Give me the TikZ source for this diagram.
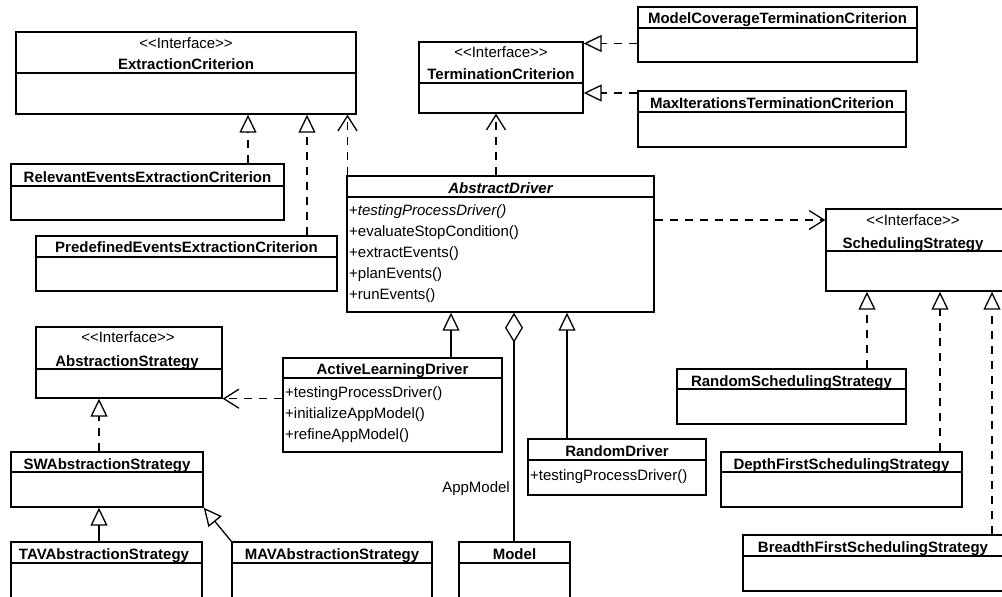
\documentclass[tikz,border=0pt]{standalone}
\usepackage{fontspec}
\setmainfont{Liberation Sans}
\usetikzlibrary{arrows.meta,fit}

\tikzset{
  classbox/.style={draw=black, line width=1.4pt, inner sep=0pt},
  divider/.style={draw=black, line width=1.4pt},
  cname/.style={font=\fontsize{15}{18}\selectfont\bfseries, anchor=base, inner sep=0pt},
  aname/.style={font=\fontsize{15}{18}\selectfont\bfseries\itshape, anchor=base, inner sep=0pt},
  stereo/.style={font=\fontsize{15}{18}\selectfont, anchor=base, inner sep=0pt},
  member/.style={font=\fontsize{15}{18}\selectfont, anchor=base west, inner sep=0pt},
  lbl/.style={font=\fontsize{15}{18}\selectfont, anchor=base east, inner sep=0pt},
  conn/.style={draw=black, line width=1.3pt},
  dashline/.style={conn, dash pattern=on 8pt off 7pt},
  realizes/.style={dashline, -{Triangle[open, length=18pt, width=17pt, line width=1.3pt]}},
  inherits/.style={conn, -{Triangle[open, length=18pt, width=17pt, line width=1.3pt]}},
  depends/.style={dashline, -{Straight Barb[length=15pt, width=19pt, line width=1.3pt]}},
  aggregates/.style={conn, {Diamond[open, length=30pt, width=18pt, line width=1.3pt]}-},
}

\begin{document}
\begin{tikzpicture}[x=1pt, y=-1pt]
\useasboundingbox (0,0) rectangle (1002,597);
\clip (0,0) rectangle (1002,597);

% ---------------- class boxes ----------------
\node[classbox, fit={(16,32) (356,114)}] (ec) {};
\draw[divider] (ec.west |- 0,73) -- (ec.east |- 0,73);
\node[stereo] (ec-s) at (186,48.5) {{<}{<}Interface{>}{>}};
\node[cname] (ec-n) at (186,69) {ExtractionCriterion};

\node[classbox, fit={(419,42) (583,113)}] (tc) {};
\draw[divider] (tc.west |- 0,83) -- (tc.east |- 0,83);
\node[stereo] (tc-s) at (501,57.5) {{<}{<}Interface{>}{>}};
\node[cname] (tc-n) at (501,79) {TerminationCriterion};

\node[classbox, fit={(638,7) (917,62)}] (mc) {};
\draw[divider] (mc.west |- 0,28) -- (mc.east |- 0,28);
\node[cname] (mc-n) at (777.5,23.5) {ModelCoverageTerminationCriterion};

\node[classbox, fit={(638,91) (906,147)}] (mi) {};
\draw[divider] (mi.west |- 0,112) -- (mi.east |- 0,112);
\node[cname] (mi-n) at (772,108) {MaxIterationsTerminationCriterion};

\node[classbox, fit={(11,164) (284,220)}] (rel) {};
\draw[divider] (rel.west |- 0,186) -- (rel.east |- 0,186);
\node[cname] (rel-n) at (147.5,182) {RelevantEventsExtractionCriterion};

\node[classbox, fit={(36,236) (337,291)}] (pre) {};
\draw[divider] (pre.west |- 0,257) -- (pre.east |- 0,257);
\node[cname] (pre-n) at (186.5,252.5) {PredefinedEventsExtractionCriterion};

\node[classbox, fit={(347,176) (654,312)}] (ad) {};
\draw[divider] (ad.west |- 0,197) -- (ad.east |- 0,197);
\node[aname] (ad-n) at (500.5,193) {AbstractDriver};
\node[member] (ad-m1) at (349,215) {+\textit{testingProcessDriver()}};
\node[member] (ad-m2) at (349,236) {+evaluateStopCondition()};
\node[member] (ad-m3) at (349,257) {+extractEvents()};
\node[member] (ad-m4) at (349,278) {+planEvents()};
\node[member] (ad-m5) at (349,299) {+runEvents()};

\node[classbox, fit={(826,209) (1012,291)}] (ss) {};
\draw[divider] (ss.west |- 0,251) -- (ss.east |- 0,251);
\node[stereo] (ss-s) at (913,225.5) {{<}{<}Interface{>}{>}};
\node[cname] (ss-n) at (913,248.5) {SchedulingStrategy};

\node[classbox, fit={(36,327) (222,398)}] (as) {};
\draw[divider] (as.west |- 0,369) -- (as.east |- 0,369);
\node[stereo] (as-s) at (128,342) {{<}{<}Interface{>}{>}};
\node[cname] (as-n) at (127,366) {AbstractionStrategy};

\node[classbox, fit={(283,358) (502,452)}] (ald) {};
\draw[divider] (ald.west |- 0,378) -- (ald.east |- 0,378);
\node[cname] (ald-n) at (392.5,374) {ActiveLearningDriver};
\node[member] (ald-m1) at (285,397) {+testingProcessDriver()};
\node[member] (ald-m2) at (285,418) {+initializeAppModel()};
\node[member] (ald-m3) at (285,439) {+refineAppModel()};

\node[classbox, fit={(528,439) (706,495)}] (rd) {};
\draw[divider] (rd.west |- 0,460) -- (rd.east |- 0,460);
\node[cname] (rd-n) at (617,456) {RandomDriver};
\node[member] (rd-m1) at (530,480) {+testingProcessDriver()};

\node[classbox, fit={(677,369) (906,424)}] (rss) {};
\draw[divider] (rss.west |- 0,389) -- (rss.east |- 0,389);
\node[cname] (rss-n) at (791.5,386) {RandomSchedulingStrategy};

\node[classbox, fit={(721,452) (962,507)}] (dfs) {};
\draw[divider] (dfs.west |- 0,472) -- (dfs.east |- 0,472);
\node[cname] (dfs-n) at (841.5,469.5) {DepthFirstSchedulingStrategy};

\node[classbox, fit={(743,535) (1012,591)}] (bfs) {};
\draw[divider] (bfs.west |- 0,556) -- (bfs.east |- 0,556);
\node[cname] (bfs-n) at (873,552) {BreadthFirstSchedulingStrategy};

\node[classbox, fit={(11,452) (203,507)}] (sw) {};
\draw[divider] (sw.west |- 0,472) -- (sw.east |- 0,472);
\node[cname] (sw-n) at (107,469.5) {SWAbstractionStrategy};

\node[classbox, fit={(11,542) (202,612)}] (tav) {};
\draw[divider] (tav.west |- 0,563) -- (tav.east |- 0,563);
\node[cname] (tav-n) at (104,559) {TAVAbstractionStrategy};

\node[classbox, fit={(232,542) (432,612)}] (mav) {};
\draw[divider] (mav.west |- 0,563) -- (mav.east |- 0,563);
\node[cname] (mav-n) at (332,559) {MAVAbstractionStrategy};

\node[classbox, fit={(459,542) (570,612)}] (model) {};
\draw[divider] (model.west |- 0,563) -- (model.east |- 0,563);
\node[cname] (model-n) at (514.5,559) {Model};

% ---------------- relations ----------------
\draw[realizes] (rel.north -| 248,0) -- (ec.south -| 248,0);
\draw[realizes] (pre.north -| 307,0) -- (ec.south -| 307,0);
\draw[depends]  (ad.north -| 347.5,0) -- (ec.south -| 347.5,0);
\draw[depends]  (ad.north -| 496,0) -- (tc.south -| 496,0);
\draw[realizes] (mc.west |- 0,43.5) -- (tc.east |- 0,43.5);
\draw[realizes] (mi.west |- 0,93) -- (tc.east |- 0,93);
\draw[depends]  (ad.east |- 0,220) -- (ss.west |- 0,220);
\draw[realizes] (rss.north -| 867,0) -- (ss.south -| 867,0);
\draw[realizes] (dfs.north -| 940,0) -- (ss.south -| 940,0);
\draw[realizes] (bfs.north -| 992,0) -- (ss.south -| 992,0);
\draw[inherits] (ald.north -| 451,0) -- (ad.south -| 451,0);
\draw[inherits] (rd.north -| 567,0) -- (ad.south -| 567,0);
\draw[aggregates] (ad.south -| 514,0) -- (model.north -| 514,0);
\draw[depends]  (ald.west |- as.south east) -- (as.south east);
\draw[realizes] (sw.north -| 99,0) -- (as.south -| 99,0);
\draw[inherits] (tav.north -| 99,0) -- (sw.south -| 99,0);
\draw[inherits] (mav.north west) -- (sw.south east);

\node[lbl] (appmodel) at (510,492) {AppModel};
\end{tikzpicture}
\end{document}
